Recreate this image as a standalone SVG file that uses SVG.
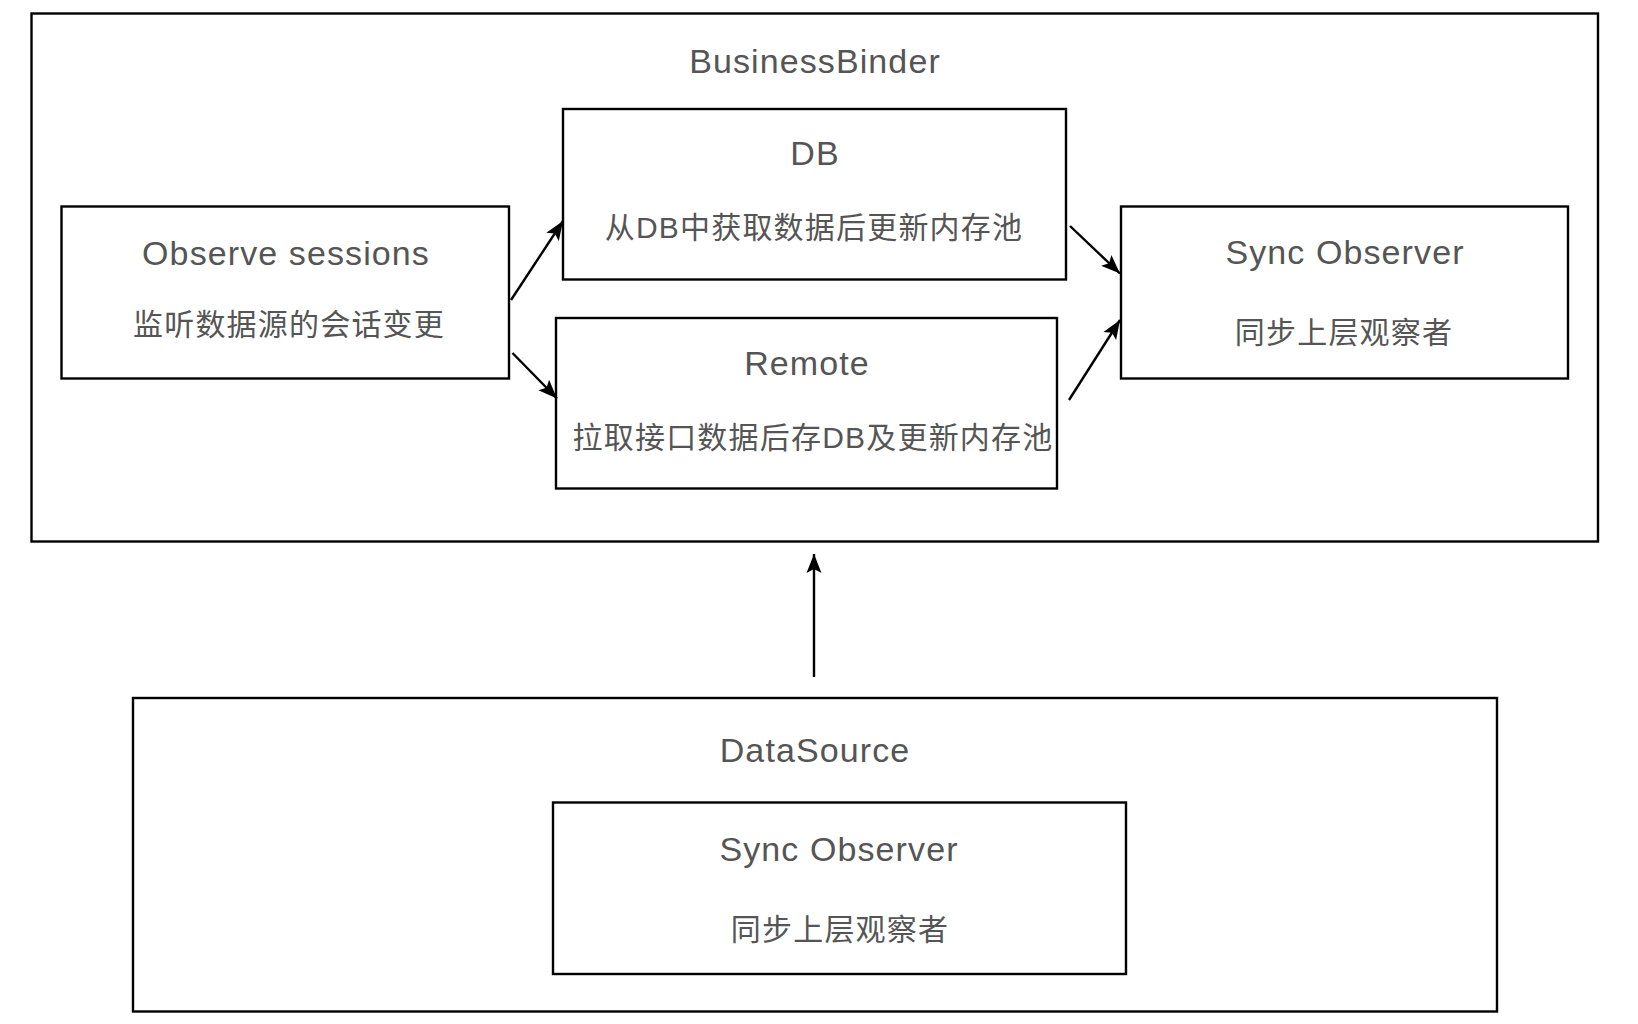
<svg xmlns="http://www.w3.org/2000/svg" width="1638" height="1024" viewBox="0 0 1638 1024">
  <style>
    .box { fill: #ffffff; stroke: #000000; stroke-width: 2.4; }
    .title { font-family: "Liberation Sans", "Noto Sans CJK SC", sans-serif; font-size: 34px; fill: #555555; text-anchor: middle; letter-spacing: 1.1px; }
    .desc { font-family: "Liberation Sans", "Noto Sans CJK SC", sans-serif; font-size: 30px; fill: #555555; text-anchor: middle; letter-spacing: 1.2px; }
    .edge { fill: none; stroke: #000000; stroke-width: 2.4; }
  </style>
  <defs>
    <marker id="arrow" markerUnits="userSpaceOnUse" markerWidth="20" markerHeight="18" viewBox="0 0 20 18" refX="19" refY="9" orient="auto">
      <path d="M0,1.5 L19,9 L0,16.5 L4,9 z" fill="#000000"/>
    </marker>
  </defs>
  <rect width="1638" height="1024" fill="#ffffff"/>

  <g id="business-binder">
    <rect class="box" x="31.5" y="13.5" width="1566.5" height="528"/>
    <text class="title" x="815" y="72.5">BusinessBinder</text>
  </g>

  <g id="observe-sessions">
    <rect class="box" x="61.5" y="206.5" width="447.5" height="172"/>
    <text class="title" x="286" y="265">Observe sessions</text>
    <text class="desc" x="289" y="335">监听数据源的会话变更</text>
  </g>

  <g id="db">
    <rect class="box" x="563" y="109" width="503" height="170.5"/>
    <text class="title" x="815" y="164.5">DB</text>
    <text class="desc" x="814" y="238">从DB中获取数据后更新内存池</text>
  </g>

  <g id="remote">
    <rect class="box" x="556" y="318" width="501" height="170.5"/>
    <text class="title" x="807" y="375">Remote</text>
    <text class="desc" x="813" y="447.5">拉取接口数据后存DB及更新内存池</text>
  </g>

  <g id="sync-observer-top">
    <rect class="box" x="1121" y="206.5" width="447" height="172"/>
    <text class="title" x="1345" y="264">Sync Observer</text>
    <text class="desc" x="1344" y="342.5">同步上层观察者</text>
  </g>

  <g id="datasource">
    <rect class="box" x="133" y="698" width="1364" height="313.5"/>
    <text class="title" x="815" y="761.5">DataSource</text>
  </g>

  <g id="sync-observer-bottom">
    <rect class="box" x="553" y="802.5" width="573" height="171.5"/>
    <text class="title" x="839" y="860.5">Sync Observer</text>
    <text class="desc" x="840" y="939.5">同步上层观察者</text>
  </g>

  <g id="connectors">
    <line class="edge" x1="511" y1="300" x2="563" y2="221" marker-end="url(#arrow)"/>
    <line class="edge" x1="512.5" y1="353" x2="557" y2="398.5" marker-end="url(#arrow)"/>
    <line class="edge" x1="1070" y1="226" x2="1120" y2="273.5" marker-end="url(#arrow)"/>
    <line class="edge" x1="1069" y1="400" x2="1120" y2="320" marker-end="url(#arrow)"/>
    <line class="edge" x1="814" y1="677" x2="814" y2="554" marker-end="url(#arrow)"/>
  </g>
</svg>
